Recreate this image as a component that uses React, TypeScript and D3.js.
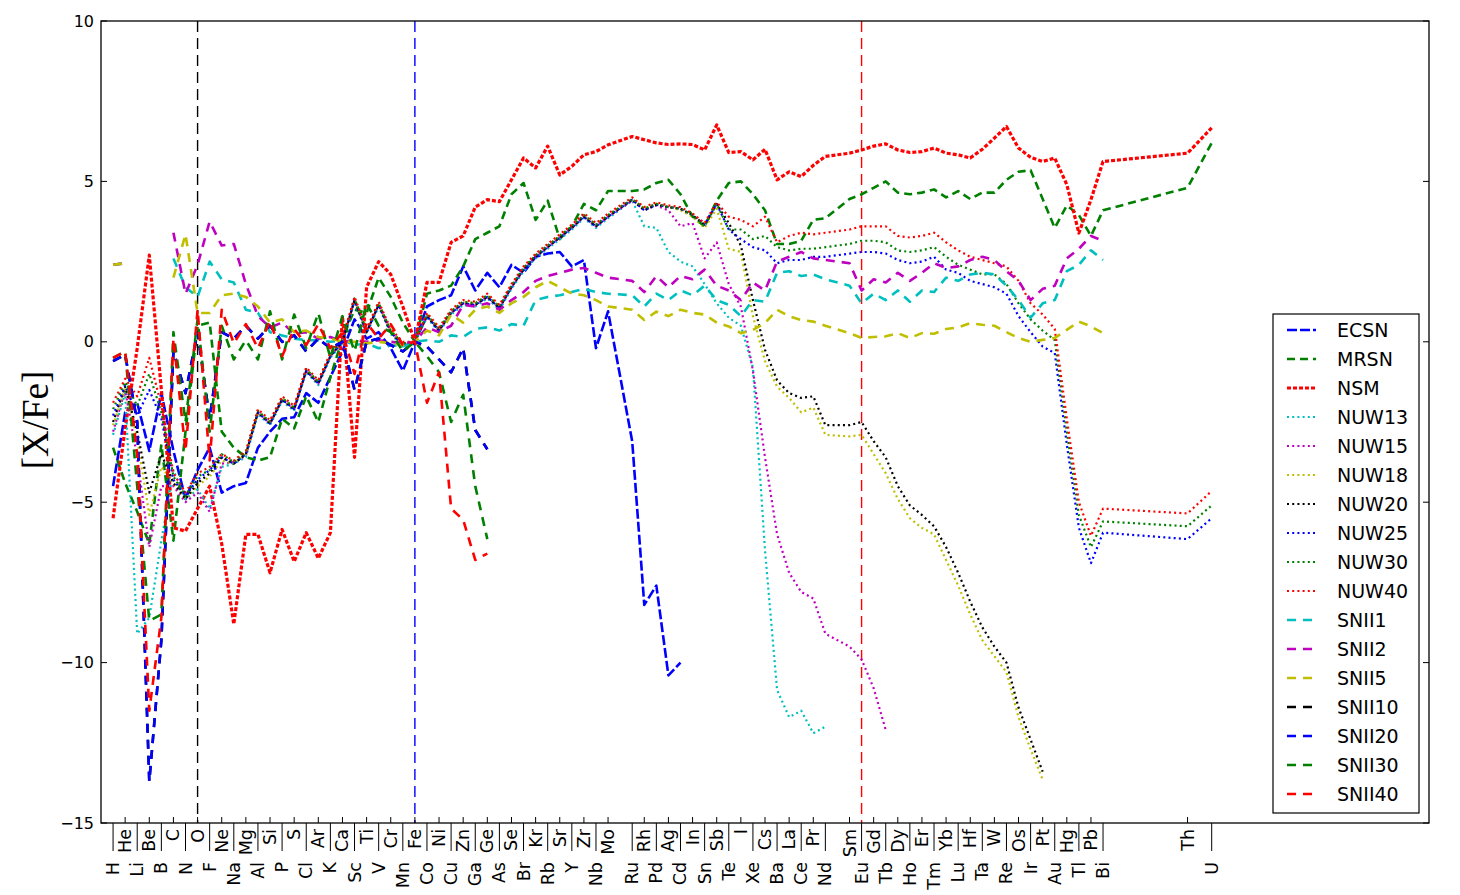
import React from "react";
import * as d3 from "d3";

const ELEMENTS = ["H","He","Li","Be","B","C","N","O","F","Ne","Na","Mg","Al","Si","P","S","Cl","Ar","K","Ca","Sc","Ti","V","Cr","Mn","Fe","Co","Ni","Cu","Zn","Ga","Ge","As","Se","Br","Kr","Rb","Sr","Y","Zr","Nb","Mo","Ru","Rh","Pd","Ag","Cd","In","Sn","Sb","Te","I","Xe","Cs","Ba","La","Ce","Pr","Nd","Sm","Eu","Gd","Tb","Dy","Ho","Er","Tm","Yb","Lu","Hf","Ta","W","Re","Os","Ir","Pt","Au","Hg","Tl","Pb","Bi","Th","U"];
const ATOMIC_NUMBER = [1,2,3,4,5,6,7,8,9,10,11,12,13,14,15,16,17,18,19,20,21,22,23,24,25,26,27,28,29,30,31,32,33,34,35,36,37,38,39,40,41,42,44,45,46,47,48,49,50,51,52,53,54,55,56,57,58,59,60,62,63,64,65,66,67,68,69,70,71,72,73,74,75,76,77,78,79,80,81,82,83,90,92];

const Y_TICKS = [-15, -10, -5, 0, 5, 10];
const MARKER_Z = [8, 26, 63];
const MARKER_COLORS = ["#000000", "#0000ff", "#ff0000"];

const N = null;
type V = number | null;

const ECSN: V[] = [
  -4.5, -2.2, -1.9, -3.4, -1.6, -3.4, -4.9, -4.0, -3.3, -4.7,
  -4.5, -4.4, -3.3, -2.8, -2.4, -2.35, -1.6, -1.9, -1.1, -0.3,
  0.7, 0.1, 0.3, -0.2, -0.9, 0.0, 1.1, 1.3, 1.45, 2.35,
  1.6, 2.15, 1.7, 2.4, 2.15, 2.65, 2.75, 2.8, 2.35, 2.55,
  -0.2, 0.95, -3.1, -8.2, -7.6, -10.4, -10.0,
];
const MRSN: V[] = [
  -3.3, -4.4, -5.3, -6.3, -3.2, -6.2, -2.8, 0.5, 0.6, -2.8,
  -3.3, -3.6, -3.7, -3.6, -2.4, -2.7, -1.7, -2.5, -1.1, 0.1,
  1.0, 0.9, 2.0, 1.4, 0.6, 0.0, 1.5, 1.6, 1.75, 2.35,
  3.2, 3.4, 3.6, 4.6, 4.95, 3.8, 4.4, 3.2, 3.6, 4.3,
  4.1, 4.7, 4.7, 4.75, 4.95, 5.05, 4.6, 3.9, 3.6, 4.4,
  4.95, 5.0, 4.6, 4.1, 3.05, 3.05, 3.15, 3.8, 3.85, 4.45,
  4.6, 4.8, 5.0, 4.65, 4.6, 4.65, 4.75, 4.5, 4.7, 4.45,
  4.65, 4.65, 5.05, 5.3, 5.35, 4.45, 3.55, 4.25, 3.95, 3.3,
  4.1, 4.8, 6.2,
];
const NSM: V[] = [
  -5.5, -2.7, -0.2, 2.7, -1.5, -5.8, -5.9, -5.2, -4.5, -6.3,
  -8.8, -6.0, -6.0, -7.2, -5.85, -6.85, -5.95, -6.75, -5.95, 0.8,
  -3.6, 1.7, 2.5, 2.1, 1.1, 0.0, 1.85, 1.85, 3.1, 3.3,
  4.2, 4.43, 4.37, 5.05, 5.73, 5.42, 6.1, 5.2, 5.47, 5.83,
  5.93, 6.14, 6.4, 6.3, 6.2, 6.15, 6.17, 6.15, 5.98, 6.76,
  5.9, 5.93, 5.67, 6.0, 5.05, 5.3, 5.15, 5.5, 5.78, 5.88,
  5.98, 6.1, 6.17, 5.98, 5.9, 5.93, 6.04, 5.88, 5.83, 5.73,
  6.0, 6.35, 6.71, 6.04, 5.75, 5.62, 5.73, 4.9, 3.39, 4.43,
  5.62, 5.88, 6.67,
];
const NUW13: V[] = [
  -2.9, -1.6, -9.1, -8.6, -6.2, -4.0, -4.9, -4.6, -5.2, -3.9,
  -3.8, -3.6, -2.25, -2.6, -1.85, -2.15, -0.95, -1.35, -0.5, -0.05,
  1.25, 0.25, 1.1, 0.25, -0.15, 0.0, 0.75, 0.3, 0.85, 1.15,
  1.1, 1.35, 1.0, 1.65, 2.2, 2.6, 2.9, 3.2, 3.5, 3.85,
  3.55, 3.85, 4.4, 3.6, 3.55, 2.8, 2.5, 2.35, 1.8, 1.2,
  0.75, 0.5, -0.8, -6.5, -10.85, -11.7, -11.5, -12.2, -12.0,
];
const NUW15: V[] = [
  -2.8, -1.5, -3.6, -6.4, -4.5, -4.5, -5.0, -4.7, -5.3, -3.8,
  -3.75, -3.55, -2.2, -2.55, -1.8, -2.1, -0.9, -1.3, -0.45, 0.0,
  1.3, 0.3, 1.15, 0.3, -0.1, 0.0, 0.8, 0.35, 0.9, 1.2,
  1.15, 1.4, 1.05, 1.7, 2.25, 2.65, 2.95, 3.25, 3.55, 3.9,
  3.6, 3.9, 4.4, 4.1, 4.25, 4.1, 3.6, 3.7, 2.6, 3.1,
  1.8, 1.1, -0.9, -3.6, -6.0, -7.2, -7.8, -8.0, -9.1, -9.5,
  -9.9, -10.8, -12.1,
];
const NUW18: V[] = [
  -2.6, -1.45, -3.0, -5.4, -3.9, -4.4, -4.9, -4.5, -4.2, -3.7,
  -3.8, -3.5, -2.2, -2.5, -1.75, -2.05, -0.85, -1.25, -0.4, 0.05,
  1.35, 0.35, 1.2, 0.35, -0.05, 0.0, 0.85, 0.4, 0.95, 1.25,
  1.2, 1.45, 1.1, 1.75, 2.3, 2.7, 3.0, 3.3, 3.6, 3.95,
  3.65, 3.95, 4.45, 4.15, 4.3, 4.2, 4.1, 3.9, 3.55, 4.15,
  2.9, 2.8, 0.8, -0.6, -1.4, -1.75, -2.2, -2.05, -2.9, -2.95,
  -2.9, -3.5, -4.1, -4.9, -5.5, -5.8, -6.0, -6.8, -7.6, -8.5,
  -9.3, -9.8, -10.3, -11.7, -12.7, -13.65,
];
const NUW20: V[] = [
  -2.5, -1.4, -2.8, -4.7, -3.5, -4.4, -4.9, -4.4, -4.1, -3.6,
  -3.8, -3.5, -2.2, -2.55, -1.8, -2.1, -0.9, -1.3, -0.45, 0.0,
  1.3, 0.3, 1.15, 0.3, -0.1, 0.0, 0.8, 0.35, 0.9, 1.2,
  1.15, 1.4, 1.05, 1.7, 2.25, 2.65, 2.95, 3.25, 3.55, 3.9,
  3.6, 3.9, 4.43, 4.1, 4.27, 4.2, 4.15, 3.95, 3.65, 4.3,
  3.7, 3.0, 1.3, -0.25, -1.2, -1.6, -1.75, -1.7, -2.6, -2.6,
  -2.5, -3.1, -3.6, -4.5, -5.1, -5.4, -5.75, -6.4, -7.2, -8.1,
  -8.9, -9.5, -10.0, -11.4, -12.4, -13.4,
];
const NUW25: V[] = [
  -2.3, -1.35, -2.3, -1.5, -2.4, -4.3, -4.8, -4.3, -4.0, -3.6,
  -3.8, -3.5, -2.2, -2.55, -1.8, -2.1, -0.9, -1.3, -0.45, 0.0,
  1.3, 0.3, 1.15, 0.3, -0.1, 0.0, 0.8, 0.35, 0.9, 1.2,
  1.15, 1.4, 1.05, 1.7, 2.25, 2.65, 2.95, 3.25, 3.55, 3.9,
  3.6, 3.9, 4.43, 4.1, 4.27, 4.2, 4.15, 3.95, 3.65, 4.3,
  3.5, 3.2, 2.95, 2.85, 2.45, 2.55, 2.55, 2.65, 2.65, 2.75,
  2.8, 2.8, 2.75, 2.55, 2.45, 2.5, 2.65, 2.25, 2.15, 1.9,
  1.8, 1.7, 1.5, 0.8, 0.3, -0.15, -0.35, -3.2, -5.8, -6.9,
  -5.95, -6.15, -5.5,
];
const NUW30: V[] = [
  -2.1, -1.25, -2.0, -1.0, -2.2, -4.2, -4.8, -4.2, -4.0, -3.5,
  -3.75, -3.45, -2.15, -2.5, -1.75, -2.05, -0.85, -1.25, -0.4, 0.05,
  1.35, 0.35, 1.2, 0.35, -0.05, 0.0, 0.85, 0.4, 0.95, 1.25,
  1.2, 1.45, 1.1, 1.75, 2.3, 2.7, 3.0, 3.3, 3.6, 3.95,
  3.65, 3.95, 4.45, 4.15, 4.3, 4.2, 4.15, 3.95, 3.6, 4.3,
  3.5, 3.5, 3.2, 3.3, 2.95, 2.85, 2.9, 2.9, 2.95, 3.05,
  3.15, 3.15, 3.1, 2.85, 2.8, 2.85, 2.95, 2.65, 2.4, 2.25,
  2.1, 2.1, 1.8, 1.2, 0.7, 0.35, 0.05, -2.8, -5.4, -6.4,
  -5.6, -5.75, -5.1,
];
const NUW40: V[] = [
  -1.9, -1.15, -1.7, -0.5, -2.0, -4.1, -4.7, -4.1, -3.9, -3.5,
  -3.7, -3.4, -2.1, -2.45, -1.7, -2.0, -0.8, -1.2, -0.35, 0.1,
  1.4, 0.4, 1.25, 0.4, 0.0, 0.0, 0.9, 0.45, 1.0, 1.3,
  1.25, 1.5, 1.15, 1.8, 2.35, 2.75, 3.05, 3.35, 3.65, 4.0,
  3.7, 4.0, 4.5, 4.2, 4.35, 4.25, 4.2, 4.0, 3.7, 4.35,
  3.9, 3.8, 3.6, 3.9, 3.1, 3.3, 3.4, 3.35, 3.4, 3.5,
  3.6, 3.6, 3.6, 3.3, 3.25, 3.3, 3.4, 3.1, 2.85, 2.65,
  2.55, 2.45, 2.35, 1.9, 1.2, 0.85, 0.4, -2.4, -5.0, -6.05,
  -5.2, -5.35, -4.65,
];
const SNII1: V[] = [
  2.4, 2.45, N, N, N, 2.6, 1.7, 1.4, 2.5, 1.95,
  1.85, 1.0, 0.9, 0.3, 0.2, 0.1, 0.05, 0.05, 0.0, 0.05,
  -0.1, -0.05, -0.2, -0.1, -0.15, 0.0, 0.05, 0.0, 0.2, 0.15,
  0.4, 0.45, 0.35, 0.55, 0.5, 1.3, 1.4, 1.45, 1.55, 1.65,
  1.55, 1.5, 1.45, 1.1, 1.5, 1.3, 1.6, 1.45, 1.75, 1.3,
  1.15, 0.8, 1.3, 1.25, 2.15, 2.2, 2.05, 2.1, 1.95, 1.75,
  1.2, 1.5, 1.3, 1.6, 1.25, 1.6, 1.55, 2.0, 1.9, 2.1,
  2.15, 2.1, 1.75, 1.3, 0.75, 1.2, 1.3, 2.2, 2.4, 2.85,
  2.55,
];
const SNII2: V[] = [
  2.4, 2.45, N, N, N, 3.4, 1.5, 2.4, 3.75, 3.0,
  3.05, 1.8, 0.8, 0.45, 0.6, 0.25, 0.3, 0.1, 0.15, 0.0,
  0.05, 0.0, 0.05, 0.0, -0.05, 0.0, 0.45, 0.3, 0.5, 1.15,
  1.1, 1.2, 1.0, 1.3, 1.55, 1.9, 2.05, 2.15, 2.25, 2.3,
  2.15, 2.0, 1.9, 1.55, 2.05, 1.7, 2.05, 1.95, 2.25, 1.75,
  1.6, 1.3, 1.85, 1.6, 2.5, 2.65, 2.8, 2.6, 2.55, 2.45,
  1.6, 1.95, 1.85, 2.15, 1.9, 2.15, 2.45, 2.3, 2.35, 2.55,
  2.65, 2.55, 2.2, 1.9, 1.3, 1.65, 1.75, 2.6, 2.9, 3.3,
  3.15,
];
const SNII5: V[] = [
  2.4, 2.45, N, N, N, 2.0, 3.35, 0.9, 0.9, 1.45,
  1.5, 1.4, 1.1, 0.6, 0.7, 0.3, 0.35, 0.15, 0.1, 0.0,
  0.0, -0.05, 0.0, -0.05, -0.1, 0.0, 0.35, 0.2, 0.85, 0.6,
  1.0, 1.1, 0.9, 1.2, 1.4, 1.7, 1.9, 1.7, 1.5, 1.45,
  1.3, 1.1, 1.0, 0.68, 0.94, 0.8, 1.0, 0.9, 0.85, 0.6,
  0.48, 0.27, 0.37, 0.58, 1.0, 0.8, 0.68, 0.63, 0.5, 0.27,
  0.12, 0.15, 0.17, 0.27, 0.12, 0.27, 0.25, 0.4, 0.45, 0.58,
  0.53, 0.5, 0.3, 0.12, 0.0, 0.06, 0.12, 0.37, 0.63, 0.48,
  0.27,
];
const SNII10: V[] = [
  -0.6, -0.4, -2.5, -13.7, -9.3, -0.3, -1.6, 0.3, -2.4, 0.3,
  0.1, 0.5, 0.1, 0.5, 0.0, 0.2, -0.3, 0.1, -0.2, 0.0,
  -1.5, 0.0, 0.1, -0.1, -0.3, 0.0, -0.15, -0.55, -0.95, -0.2,
  -2.75, -3.35,
];
const SNII20: V[] = [
  -0.6, -0.4, -2.5, -13.7, -9.3, -0.3, -1.6, 0.3, -2.4, 0.3,
  0.1, 0.5, 0.1, 0.5, 0.0, 0.2, -0.3, 0.1, -0.2, 0.0,
  -1.5, 0.0, 0.1, -0.1, -0.3, 0.0, -0.15, -0.55, -0.95, -0.2,
  -2.75, -3.35,
];
const SNII30: V[] = [
  -0.5, -0.3, -4.5, -8.7, -8.5, 0.3, -2.5, 0.7, -2.8, 0.5,
  -0.55, 0.05, -0.55, 0.95, -0.55, 0.85, -0.2, 0.9, -0.5, 0.8,
  -0.3, 1.2, 0.5, 0.3, -0.3, 0.0, -0.45, -0.95, -2.5, -1.65,
  -4.5, -6.15,
];
const SNII40: V[] = [
  -0.5, -0.3, -3.5, -11.5, -8.6, 0.1, -3.4, 1.0, -3.7, 1.0,
  -0.05, 0.55, -0.2, 0.65, -0.45, 0.4, -0.1, 0.55, -0.2, 0.3,
  -1.0, 0.6, 0.1, 0.55, -0.1, 0.0, -1.9, -0.95, -5.2, -5.55,
  -6.8, -6.6,
];

const SERIES_NAMES = ["ECSN","MRSN","NSM","NUW13","NUW15","NUW18","NUW20","NUW25","NUW30","NUW40","SNII1","SNII2","SNII5","SNII10","SNII20","SNII30","SNII40"];
const SERIES_VALUES = [ECSN, MRSN, NSM, NUW13, NUW15, NUW18, NUW20, NUW25, NUW30, NUW40, SNII1, SNII2, SNII5, SNII10, SNII20, SNII30, SNII40];
const SERIES_COLORS = ["#0000ff","#008000","#ff0000","#00bfbf","#bf00bf","#bfbf00","#000000","#0000ff","#008000","#ff0000","#00bfbf","#bf00bf","#bfbf00","#000000","#0000ff","#008000","#ff0000"];
const SERIES_KIND = ["ecsn","mrsn","nsm","nuw","nuw","nuw","nuw","nuw","nuw","nuw","snii","snii","snii","snii","snii","snii","snii"];

const STYLE: Record<string, { w: number; dash: string }> = {
  ecsn: { w: 2.6, dash: "10 3" },
  mrsn: { w: 2.6, dash: "8 5" },
  nsm: { w: 3.2, dash: "4 2" },
  nuw: { w: 2.2, dash: "2 3.2" },
  snii: { w: 2.6, dash: "9 7" },
};

const FONT = "'DejaVu Sans', sans-serif";

export default function App() {
  const left = 101, right = 1429, top = 21, bottom = 823;
  const x = d3.scaleLinear().domain([0, 110]).range([left, right]);
  const y = d3.scaleLinear().domain([-15, 10]).range([bottom, top]);

  const line = d3
    .line<[number, V]>()
    .defined((d) => d[1] !== null && d[1] !== undefined)
    .x((d) => x(d[0]))
    .y((d) => y(d[1] as number));

  const paths = SERIES_VALUES.map((vals) =>
    line(ATOMIC_NUMBER.map((z, i) => [z, i < vals.length ? vals[i] : null] as [number, V])) || ""
  );

  const legX = 1273, legY = 314, legW = 146, legH = 499, rowH = 29;

  return (
    <div style={{ position: "absolute", left: 0, top: 0 }}>
      <svg width={1460} height={895} style={{ display: "block", background: "#ffffff" }}>
        <defs>
          <clipPath id="plotclip">
            <rect x={left} y={top} width={right - left} height={bottom - top} />
          </clipPath>
        </defs>
        <rect x={0} y={0} width={1460} height={895} fill="#ffffff" />
        <g clipPath="url(#plotclip)">
          {MARKER_Z.map((z, i) => (
            <line key={"m" + i} x1={x(z)} x2={x(z)} y1={top} y2={bottom} stroke={MARKER_COLORS[i]} strokeWidth={1.4} strokeDasharray="11 6" />
          ))}
          {paths.map((d, i) => (
            <path key={SERIES_NAMES[i]} d={d} fill="none" stroke={SERIES_COLORS[i]}
              strokeWidth={STYLE[SERIES_KIND[i]].w} strokeDasharray={STYLE[SERIES_KIND[i]].dash}
              strokeLinejoin="round" />
          ))}
        </g>
        <rect x={left} y={top} width={right - left} height={bottom - top} fill="none" stroke="#000" strokeWidth={1.3} />
        {Y_TICKS.map((t) => (
          <g key={"yt" + t}>
            <line x1={left} x2={left + 6} y1={y(t)} y2={y(t)} stroke="#000" strokeWidth={1} />
            <line x1={right - 6} x2={right} y1={y(t)} y2={y(t)} stroke="#000" strokeWidth={1} />
            <text x={left - 7} y={y(t)} textAnchor="end" dominantBaseline="central" fontFamily={FONT} fontSize={16} fill="#000">
              {t < 0 ? "\u2212" + Math.abs(t) : String(t)}
            </text>
          </g>
        ))}
        {ELEMENTS.map((el, i) => {
          const xp = x(ATOMIC_NUMBER[i]);
          const upper = i % 2 === 1;
          const ty = upper ? 829 : 862;
          return (
            <g key={"xt" + el}>
              {upper ? (
                <line x1={xp} x2={xp} y1={bottom} y2={bottom - 6} stroke="#000" strokeWidth={1} />
              ) : (
                <line x1={xp} x2={xp} y1={bottom} y2={bottom + 28} stroke="#000" strokeWidth={1} />
              )}
              <text x={xp} y={ty} transform={`rotate(-90 ${xp} ${ty})`} textAnchor="end" dominantBaseline="central"
                fontFamily={FONT} fontSize={17.5} fill="#000">
                {el}
              </text>
            </g>
          );
        })}
        <text x={35} y={420} transform="rotate(-90 35 420)" textAnchor="middle" dominantBaseline="central"
          fontFamily="'Liberation Serif', 'DejaVu Serif', serif" fontSize={37} fill="#000">
          [X/Fe]
        </text>
        <g>
          <rect x={legX} y={legY} width={legW} height={legH} fill="#ffffff" stroke="#000" strokeWidth={1.2} />
          {SERIES_NAMES.map((name, i) => {
            const ly = 330 + i * rowH;
            const st = STYLE[SERIES_KIND[i]];
            return (
              <g key={"lg" + name}>
                <line x1={1287} x2={1316} y1={ly} y2={ly} stroke={SERIES_COLORS[i]} strokeWidth={st.w} strokeDasharray={st.dash} />
                <text x={1337} y={ly} dominantBaseline="central" fontFamily={FONT} fontSize={19} fill="#000">
                  {name}
                </text>
              </g>
            );
          })}
        </g>
      </svg>
    </div>
  );
}
